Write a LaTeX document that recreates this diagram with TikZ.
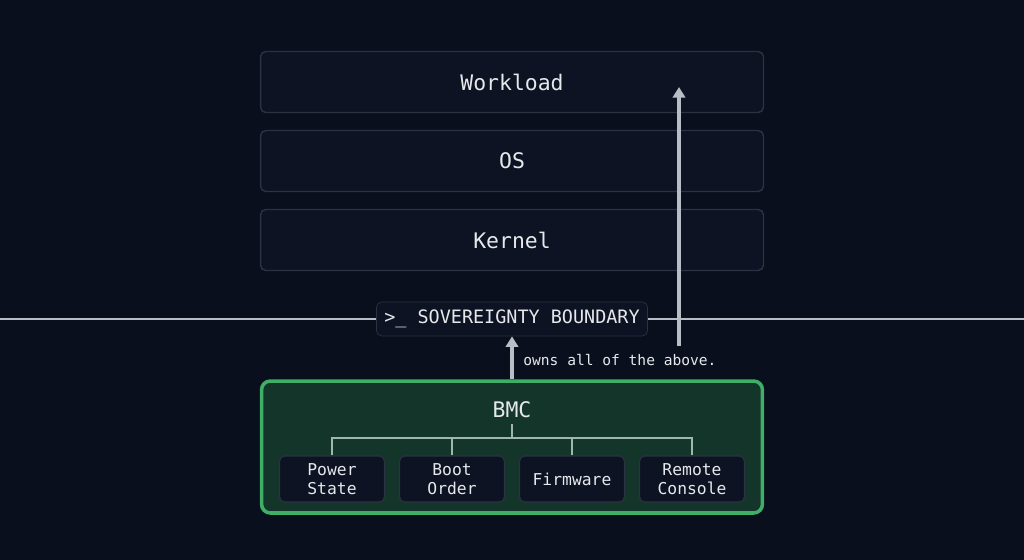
\documentclass[tikz,border=0pt]{standalone}
\usepackage{fontspec}
\setmonofont{DejaVu Sans Mono}
\usetikzlibrary{arrows.meta, positioning}
\definecolor{nightbg}{HTML}{0A0F1D}
\definecolor{layerfill}{HTML}{0D1322}
\definecolor{layerline}{HTML}{2B3243}
\definecolor{boundline}{HTML}{B9BDC6}
\definecolor{bmcfill}{HTML}{14352A}
\definecolor{bmcline}{HTML}{3FAE66}
\definecolor{treeline}{HTML}{9FB8AE}
\definecolor{labeltext}{HTML}{E6E8EC}

\begin{document}
\begin{tikzpicture}[x=0.02cm, y=-0.02cm, font=\ttfamily]
\tikzstyle{layer} = [rectangle, rounded corners=3pt, minimum width=10.06cm, minimum height=1.22cm, draw=layerline, fill=layerfill, line width=0.8pt, text=labeltext, font=\ttfamily\fontsize{12.2}{14}\selectfont]
\tikzstyle{part} = [rectangle, rounded corners=3pt, minimum width=2.1cm, minimum height=0.92cm, inner sep=1pt, draw=layerline, fill=layerfill, line width=0.6pt, text=labeltext, align=center, font=\ttfamily\fontsize{9.3}{10.9}\selectfont]
\tikzstyle{uparrow} = [-{Triangle[length=6pt,width=7pt]}, line width=1.8pt, draw=boundline]

% background
\useasboundingbox (0,0) rectangle (1024,559);
\fill[nightbg] (-5,-5) rectangle (1029,564);

% stack layers
\node (workload) [layer] at (512,82) {Workload};
\node (os) [layer] at (512,161) {OS};
\node (kernel) [layer] at (512,240) {Kernel};

% sovereignty boundary
\coordinate (leftend) at (-5,319);
\coordinate (rightend) at (1029,319);
\draw[boundline, line width=1.6pt] (leftend) -- (rightend);
\node (boundary) [rectangle, rounded corners=3pt, minimum width=5.42cm, minimum height=0.68cm, draw=layerline, fill=layerfill, text=labeltext, font=\ttfamily\fontsize{10.5}{12}\selectfont] at (512,319) {>\_ SOVEREIGNTY BOUNDARY};

% BMC block
\node (bmc) [rectangle, rounded corners=5pt, minimum width=10.02cm, minimum height=2.64cm, draw=bmcline, fill=bmcfill, line width=2pt] at (512,447) {};
\node (bmctitle) [text=labeltext, font=\ttfamily\fontsize{12.2}{14}\selectfont] at (512,410) {BMC};
\node (power) [part] at (332,479) {Power\\State};
\node (boot) [part] at (452,479) {Boot\\Order};
\node (firmware) [part] at (572,479) {Firmware};
\node (remote) [part] at (692,479) {Remote\\Console};
\coordinate (fork) at (512,438);
\draw[treeline, line width=0.8pt] (bmctitle.south) -- (fork);
\foreach \sub in {power, boot, firmware, remote} {
    \draw[treeline, line width=0.8pt] (fork) -| (\sub.north);
}

% ownership arrows
\coordinate (reachtop) at (679,87);
\draw[uparrow] (bmc.north) -- (boundary.south);
\draw[uparrow] (679,346) -- (reachtop);
\node (owns) [anchor=west, inner sep=0pt, text=labeltext, font=\ttfamily\fontsize{8.3}{10}\selectfont] at (523,360) {owns all of the above.};

\end{tikzpicture}
\end{document}
